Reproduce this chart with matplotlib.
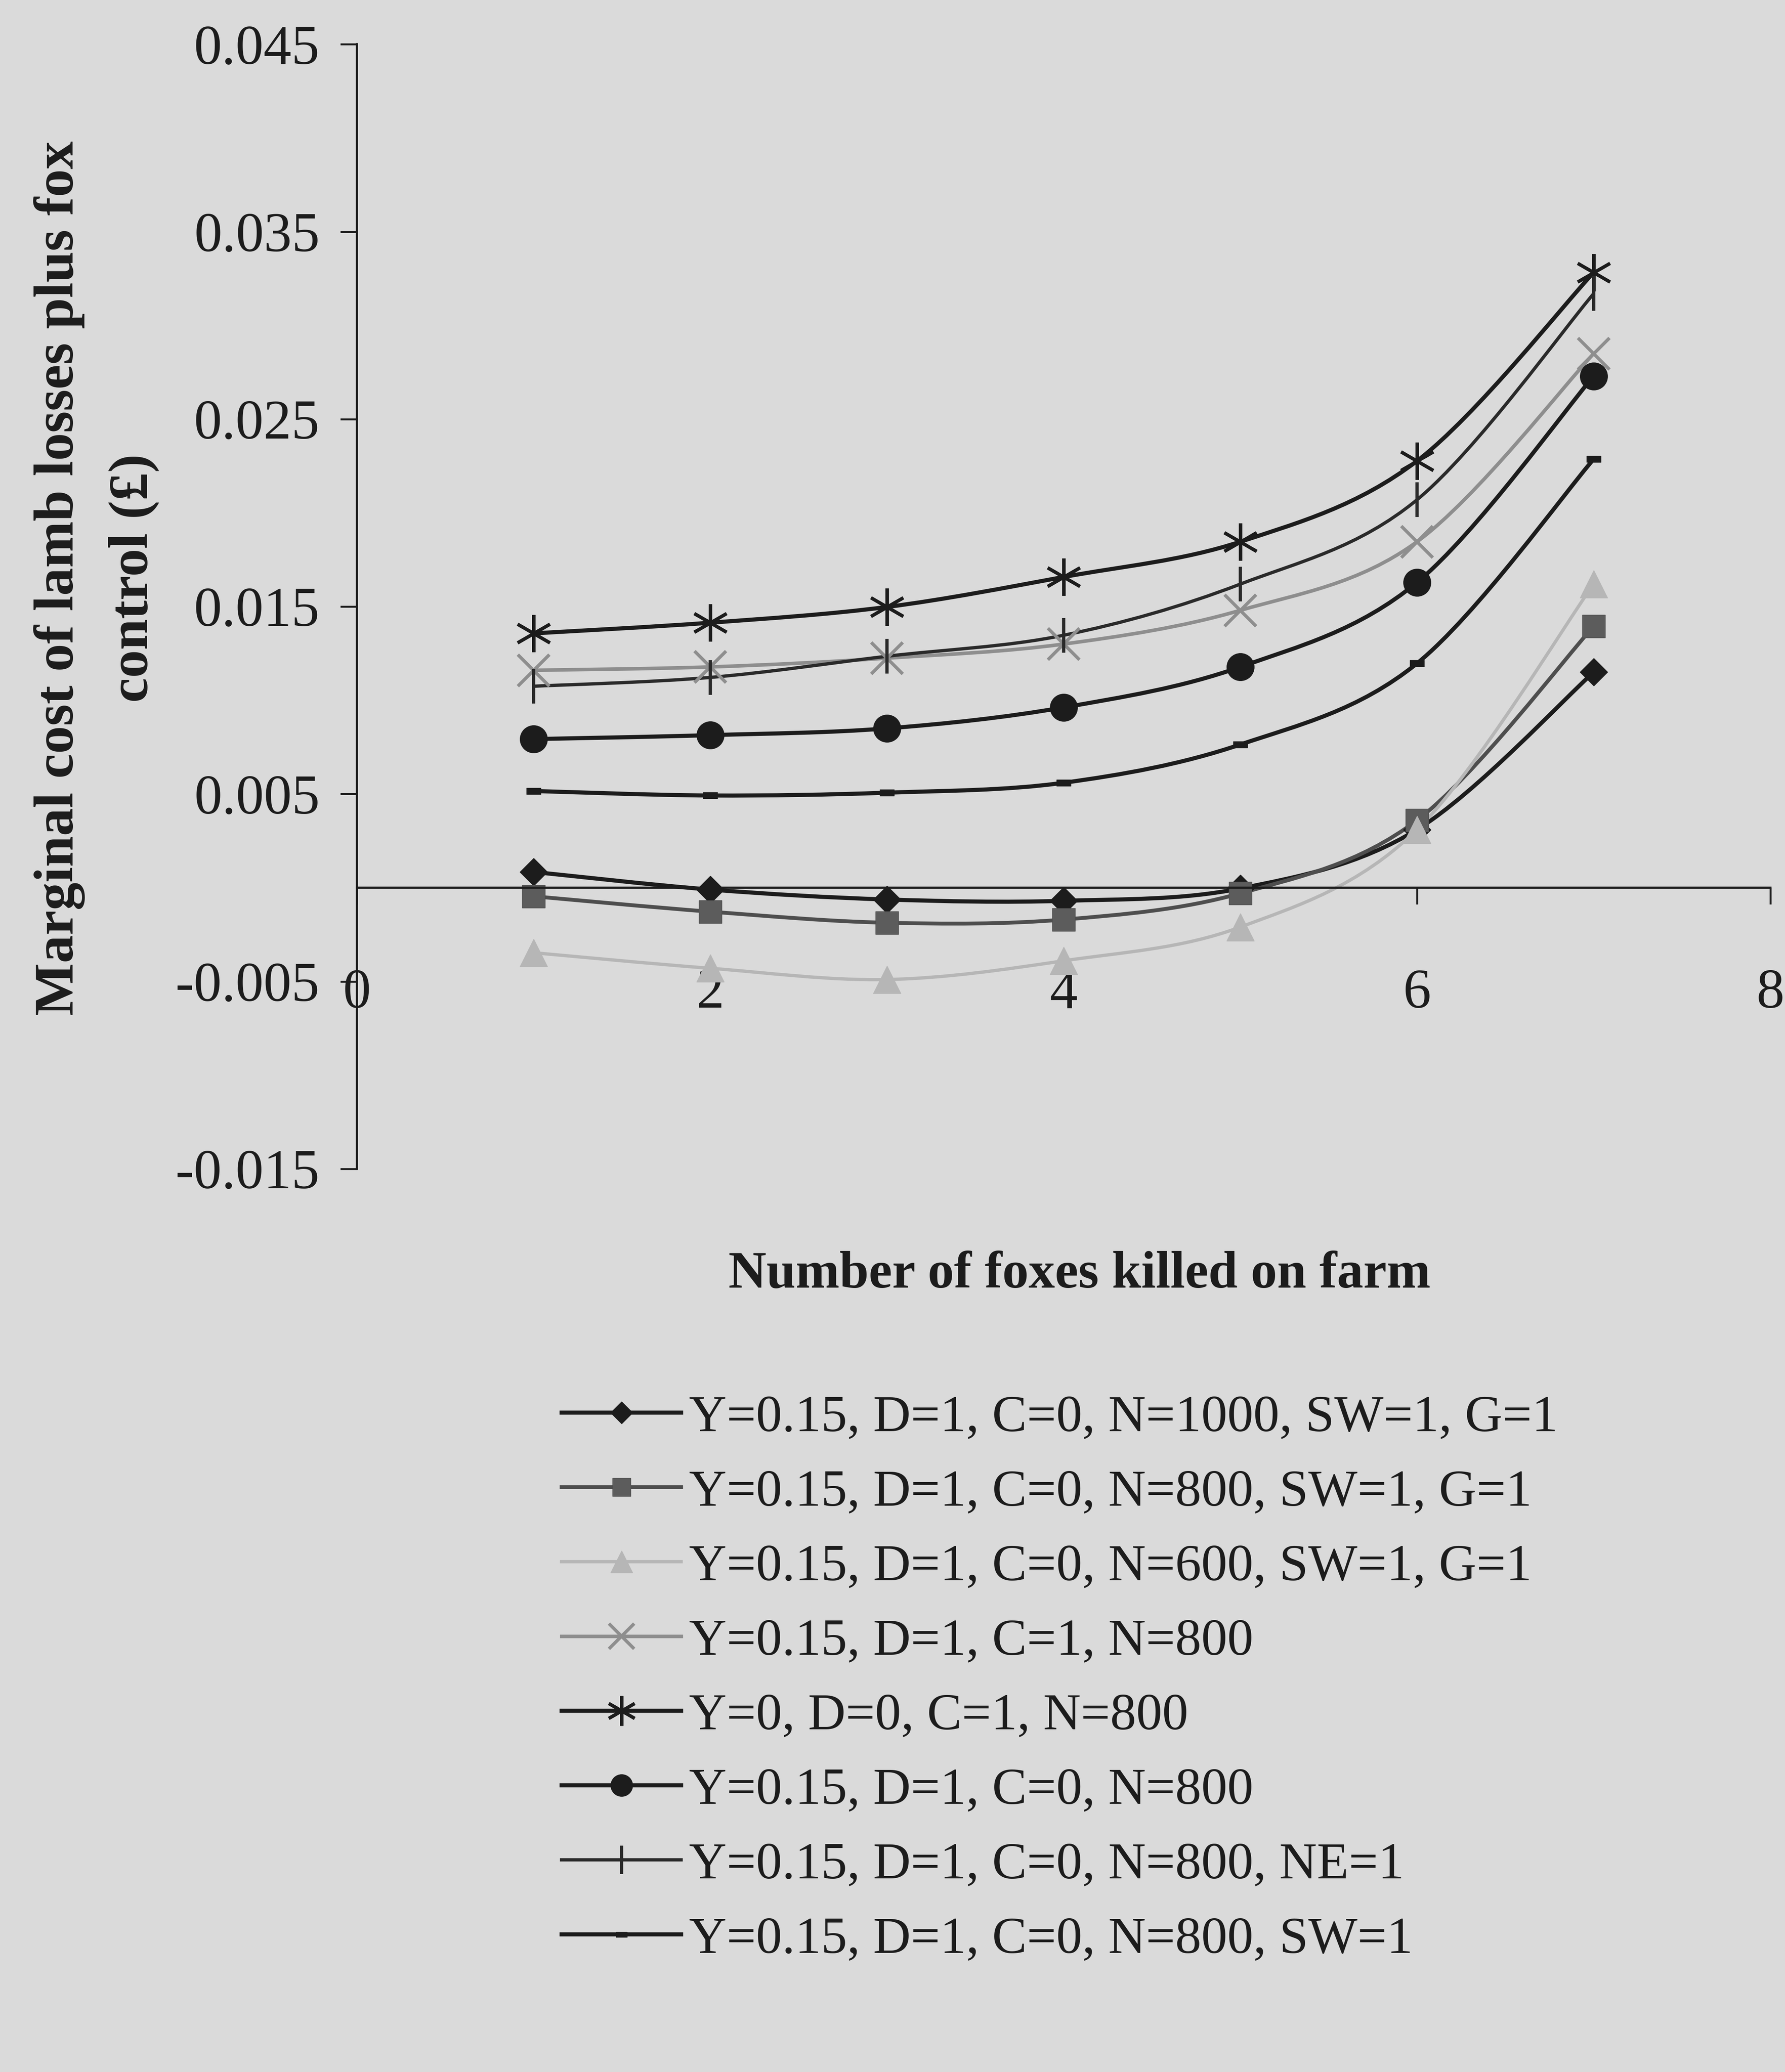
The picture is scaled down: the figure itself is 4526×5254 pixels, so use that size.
import numpy
import matplotlib
matplotlib.use("Agg")
from matplotlib import pyplot
from matplotlib.path import Path
from matplotlib.patches import PathPatch
from matplotlib.lines import Line2D

# -----------------------------------------------------------------------------
# data
foxes = [1, 2, 3, 4, 5, 6, 7]

n1000_g1 = [0.00084, -0.00010, -0.00063, -0.00070, -0.00004, 0.00310, 0.01150]
n800_g1 = [-0.00046, -0.00128, -0.00187, -0.00170, -0.00030, 0.00360, 0.01395]
n600_g1 = [-0.00347, -0.00430, -0.00490, -0.00390, -0.00210, 0.00310, 0.01620]
c1_n800 = [0.01160, 0.01178, 0.01225, 0.01300, 0.01480, 0.01846, 0.02850]
y0_d0_c1 = [0.01357, 0.01414, 0.01498, 0.01658, 0.01846, 0.02277, 0.03283]
c0_n800 = [0.00793, 0.00814, 0.00850, 0.00962, 0.01178, 0.01629, 0.02730]
ne1 = [0.01075, 0.01122, 0.01235, 0.01347, 0.01620, 0.02070, 0.03170]
sw1 = [0.00516, 0.00492, 0.00507, 0.00560, 0.00764, 0.01197, 0.02287]

labels = [
    "Y=0.15, D=1, C=0, N=1000, SW=1, G=1",
    "Y=0.15, D=1, C=0, N=800, SW=1, G=1",
    "Y=0.15, D=1, C=0, N=600, SW=1, G=1",
    "Y=0.15, D=1, C=1, N=800",
    "Y=0, D=0, C=1, N=800",
    "Y=0.15, D=1, C=0, N=800",
    "Y=0.15, D=1, C=0, N=800, NE=1",
    "Y=0.15, D=1, C=0, N=800, SW=1",
]

xticks = [0, 2, 4, 6, 8]
xticklabels = ["0", "2", "4", "6", "8"]
yticks = [0.045, 0.035, 0.025, 0.015, 0.005, -0.005, -0.015]
yticklabels = ["0.045", "0.035", "0.025", "0.015", "0.005", "-0.005", "-0.015"]


# -----------------------------------------------------------------------------
# smoothed line like a spreadsheet "smoothed line" (Catmull-Rom bezier)
def smooth_path(xs, ys):
    pts = numpy.column_stack([xs, ys]).astype(float)
    n = len(pts)
    verts = [pts[0]]
    codes = [Path.MOVETO]
    for i in range(n - 1):
        p0 = pts[i - 1] if i > 0 else pts[i]
        p1 = pts[i]
        p2 = pts[i + 1]
        p3 = pts[i + 2] if i + 2 < n else pts[i + 1]
        verts += [p1 + (p2 - p0) / 6.0, p2 - (p3 - p1) / 6.0, p2]
        codes += [Path.CURVE4] * 3
    return Path(verts, codes)


bg = "#dadada"
ink = "#1c1c1c"
pyplot.rcParams["font.family"] = ["Liberation Serif", "DejaVu Serif"]

fig = pyplot.figure(figsize=(45.26, 52.54), dpi=100, facecolor=bg)
ax = fig.add_axes([0.2, 0.4359, 0.7918, 0.5427], facecolor=bg)

dash = [(-1, -0.45), (1, -0.45), (1, 0.45), (-1, 0.45), (-1, -0.45)]

# series, colour, line width, marker, marker size, face colour
styles = [
    (n1000_g1, ink, 7.5, "D", 36, ink),
    (n800_g1, "#4e4e4e", 7.0, "s", 42, "#5c5c5c"),
    (n600_g1, "#b6b6b6", 6.0, "^", 50, "#b6b6b6"),
    (c1_n800, "#8e8e8e", 6.5, "x", 58, "#8e8e8e"),
    (y0_d0_c1, ink, 7.5, (6, 2, 0), 68, ink),
    (c0_n800, ink, 7.5, "o", 50, ink),
    (ne1, "#2a2a2a", 6.0, "|", 64, "#2a2a2a"),
    (sw1, ink, 7.5, dash, 26, ink),
]

handles = []
for (vals, col, lw, mk, ms, fc) in styles:
    ax.add_patch(PathPatch(smooth_path(foxes, vals), fill=False,
                           edgecolor=col, linewidth=lw, capstyle="round",
                           transform=ax.transData))
    mew = 6 if mk in ("x", "|") or isinstance(mk, tuple) else 1
    ax.plot(foxes, vals, linestyle="none", marker=mk, markersize=ms,
            markerfacecolor=fc, markeredgecolor=col, markeredgewidth=mew)
    handles.append(Line2D([], [], color=col, linewidth=lw, marker=mk,
                          markersize=ms * 0.8, markerfacecolor=fc,
                          markeredgecolor=col, markeredgewidth=mew))

ax.set_xlim(0, 8)
ax.set_ylim(-0.015, 0.045)

ax.spines["top"].set_visible(False)
ax.spines["right"].set_visible(False)
ax.spines["bottom"].set_position(("data", 0))
ax.spines["left"].set_linewidth(4)
ax.spines["bottom"].set_linewidth(4)
ax.spines["left"].set_color(ink)
ax.spines["bottom"].set_color(ink)

ax.set_xticks(xticks)
ax.set_xticklabels(xticklabels)
ax.set_yticks(yticks)
ax.set_yticklabels(yticklabels)
ax.tick_params(axis="y", length=30, width=3.5, pad=38, labelsize=102,
               color=ink, labelcolor=ink)
ax.tick_params(axis="x", length=30, width=3.5, pad=118, labelsize=102,
               color=ink, labelcolor=ink)

fig.text(0.054, 0.721, "Marginal cost of lamb losses plus fox\ncontrol (\u00a3)",
         rotation=90, ha="center", va="center", fontsize=102,
         fontweight="bold", color=ink, linespacing=1.6)
fig.text(0.6047, 0.3847, "Number of foxes killed on farm", ha="center",
         va="center", fontsize=96, fontweight="bold", color=ink)

fig.legend(handles, labels, loc="upper left", bbox_to_anchor=(0.3146, 0.327),
           frameon=False, fontsize=95, handlelength=2.3, handletextpad=0.15,
           labelspacing=0.52, borderpad=0, borderaxespad=0,
           labelcolor=ink)

fig.savefig("out.png", dpi=100, facecolor=bg)
